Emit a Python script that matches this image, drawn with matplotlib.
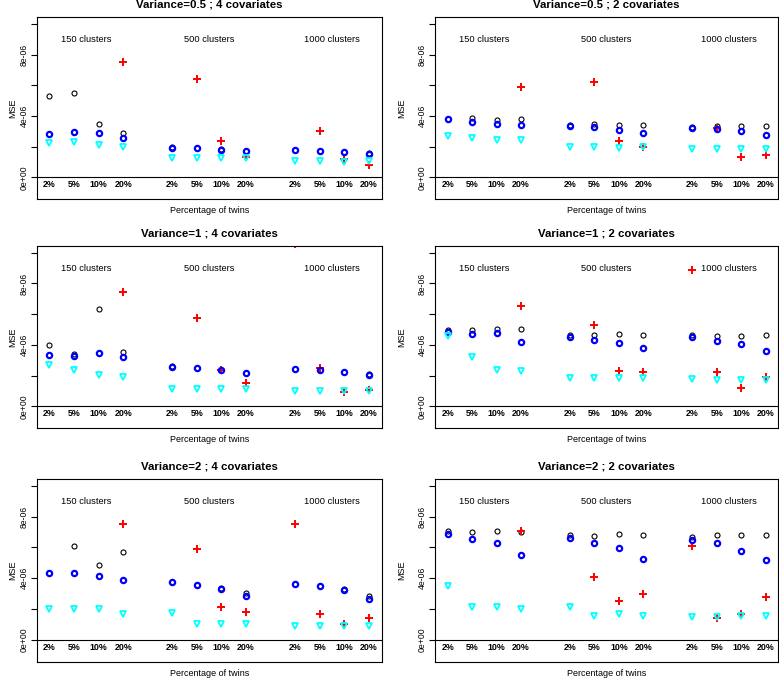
import numpy as np
import matplotlib.pyplot as plt

plt.rcParams['font.family'] = ['Liberation Sans', 'DejaVu Sans']

nan = np.nan

# etiquetas
pcts = ['2%', '5%', '10%', '20%']
clusters = ['150 clusters', '500 clusters', '1000 clusters']
titles = ['Variance=0.5 ; 4 covariates', 'Variance=0.5 ; 2 covariates',
          'Variance=1 ; 4 covariates', 'Variance=1 ; 2 covariates',
          'Variance=2 ; 4 covariates', 'Variance=2 ; 2 covariates']

# valores MSE (en unidades de 1e-06), 12 puntos: 150/500/1000 clusters x 2,5,10,20%
black_05_4 = [5.30, 5.52, 3.46, 2.87, 1.95, 1.93, 1.82, 1.74, 1.80, 1.75, 1.66, 1.57]
blue_05_4 = [2.83, 2.98, 2.91, 2.57, 1.93, 1.91, 1.80, 1.72, 1.80, 1.74, 1.65, 1.54]
cyan_05_4 = [2.22, 2.28, 2.09, 1.96, 1.24, 1.24, 1.24, 1.24, 1.07, 1.07, 1.02, 1.04]
red_05_4 = [nan, nan, nan, 7.54, nan, 6.41, 2.35, 1.35, nan, 3.02, 1.17, 0.78]

black_05_2 = [3.80, 3.87, 3.76, 3.80, 3.39, 3.46, 3.39, 3.43, 3.26, 3.33, 3.35, 3.33]
blue_05_2 = [3.78, 3.63, 3.48, 3.41, 3.37, 3.28, 3.07, 2.87, 3.24, 3.15, 3.02, 2.78]
cyan_05_2 = [2.67, 2.59, 2.41, 2.43, 1.98, 1.98, 1.93, 1.98, 1.85, 1.85, 1.85, 1.85]
red_05_2 = [nan, nan, nan, 5.91, nan, 6.20, 2.39, 2.00, nan, 3.20, 1.30, 1.46]

black_1_4 = [3.97, 3.41, 6.33, 3.54, 2.60, 2.50, 2.37, 2.18, 2.46, 2.37, 2.25, 2.13]
blue_1_4 = [3.36, 3.25, 3.47, 3.19, 2.58, 2.49, 2.36, 2.17, 2.45, 2.36, 2.23, 2.02]
cyan_1_4 = [2.67, 2.39, 2.02, 1.93, 1.15, 1.15, 1.15, 1.11, 1.00, 1.00, 1.00, 1.02]
red_1_4 = [nan, nan, nan, 7.44, nan, 5.77, 2.39, 1.50, 10.6, 2.52, 0.95, 1.04]

black_1_2 = [4.99, 4.99, 5.01, 5.01, 4.64, 4.64, 4.69, 4.64, 4.62, 4.58, 4.58, 4.62]
blue_1_2 = [4.86, 4.69, 4.75, 4.19, 4.51, 4.34, 4.12, 3.77, 4.51, 4.23, 4.03, 3.62]
cyan_1_2 = [4.56, 3.23, 2.34, 2.28, 1.82, 1.82, 1.82, 1.82, 1.76, 1.74, 1.74, 1.74]
red_1_2 = [nan, nan, nan, 6.53, nan, 5.27, 2.28, 2.23, 8.85, 2.23, 1.19, 1.93]

black_2_4 = [4.30, 6.10, 4.84, 5.68, 3.72, 3.57, 3.34, 3.02, 3.63, 3.48, 3.28, 2.82]
blue_2_4 = [4.30, 4.30, 4.16, 3.86, 3.71, 3.56, 3.30, 2.86, 3.62, 3.47, 3.19, 2.65]
cyan_2_4 = [2.00, 2.00, 2.00, 1.69, 1.74, 1.00, 1.00, 1.00, 0.87, 0.87, 0.87, 0.87]
red_2_4 = [nan, nan, nan, 7.53, nan, 5.92, 2.13, 1.80, 7.53, 1.65, 1.02, 1.43]

black_2_2 = [7.09, 7.01, 7.09, 6.98, 6.83, 6.75, 6.88, 6.77, 6.70, 6.77, 6.77, 6.77]
blue_2_2 = [6.85, 6.53, 6.31, 5.53, 6.59, 6.27, 5.97, 5.25, 6.46, 6.27, 5.77, 5.18]
cyan_2_2 = [3.47, 2.13, 2.10, 2.00, 2.13, 1.56, 1.63, 1.56, 1.48, 1.48, 1.50, 1.54]
red_2_2 = [nan, nan, nan, 7.05, nan, 4.08, 2.49, 2.97, 6.10, 1.41, 1.67, 2.78]

panels = [
    (black_05_4, blue_05_4, cyan_05_4, red_05_4),
    (black_05_2, blue_05_2, cyan_05_2, red_05_2),
    (black_1_4, blue_1_4, cyan_1_4, red_1_4),
    (black_1_2, blue_1_2, cyan_1_2, red_1_2),
    (black_2_4, blue_2_4, cyan_2_4, red_2_4),
    (black_2_2, blue_2_2, cyan_2_2, red_2_2),
]

# posiciones x: 1-4, 6-9, 11-14
x_pos = np.array([g * 5 + i + 1 for g in range(3) for i in range(4)])

W, H = 779, 678
fig = plt.figure(figsize=(W / 100, H / 100), dpi=100)

# cajas en pixeles (izq, der) y (arriba, abajo)
cols = [(36.7, 381.7), (435.0, 778.3)]
rows = [(17.3, 199.4), (246.0, 428.4), (479.0, 661.7)]
mse_x = [12.7, 401.7]

for k, (bl, bu, cy, rd) in enumerate(panels):
    r, c = divmod(k, 2)
    x0, x1 = cols[c]
    y0, y1 = rows[r]
    ax = fig.add_axes([x0 / W, 1 - y1 / H, (x1 - x0) / W, (y1 - y0) / H])

    ax.plot(x_pos, np.array(bl) * 1e-6, 'o', ms=3.6, mfc='none', mec='black', mew=0.8)
    ax.plot(x_pos, np.array(rd) * 1e-6, '+', ms=6, mec='red', mew=1.4)
    ax.plot(x_pos, np.array(bu) * 1e-6, 'o', ms=3.8, mfc='none', mec='blue', mew=1.6)
    ax.plot(x_pos, np.array(cy) * 1e-6, 'v', ms=4.6, mfc='none', mec='cyan', mew=1.3)

    ax.axhline(0, color='black', lw=0.8)

    ax.set_xlim(0.48, 14.52)
    ax.set_ylim(-1.44e-6, 10.44e-6)
    ax.set_xticks([])
    yt = np.arange(0, 11, 2) * 1e-6
    ax.set_yticks(yt)
    ax.set_yticklabels(['0e+00', '', '4e-06', '', '8e-06', ''])
    ax.tick_params(axis='y', direction='out', length=4, width=0.8, pad=2,
                   labelsize=6.2, labelrotation=90)
    for lab in ax.get_yticklabels():
        lab.set_va('center')
    for sp in ax.spines.values():
        sp.set_linewidth(0.8)

    for i, xp in enumerate(x_pos):
        ax.text(xp, -0.5e-6, pcts[i % 4], ha='center', va='center',
                fontsize=6.4, fontweight='bold')
    for g, lab in enumerate(clusters):
        ax.text(g * 5 + 2.5, 9e-6, lab, ha='center', va='center', fontsize=6.7)

    fig.text((x0 + x1) / 2 / W, 1 - (y0 - 12.5) / H, titles[k], ha='center',
             va='center', fontsize=8.2, fontweight='bold')
    fig.text((x0 + x1) / 2 / W, 1 - (y1 + 11.3) / H, 'Percentage of twins',
             ha='center', va='center', fontsize=6.5)
    fig.text(mse_x[c] / W, 1 - (y0 + y1) / 2 / H, 'MSE', ha='center',
             va='center', rotation=90, fontsize=6.5)

fig.savefig('out.png', dpi=100)
